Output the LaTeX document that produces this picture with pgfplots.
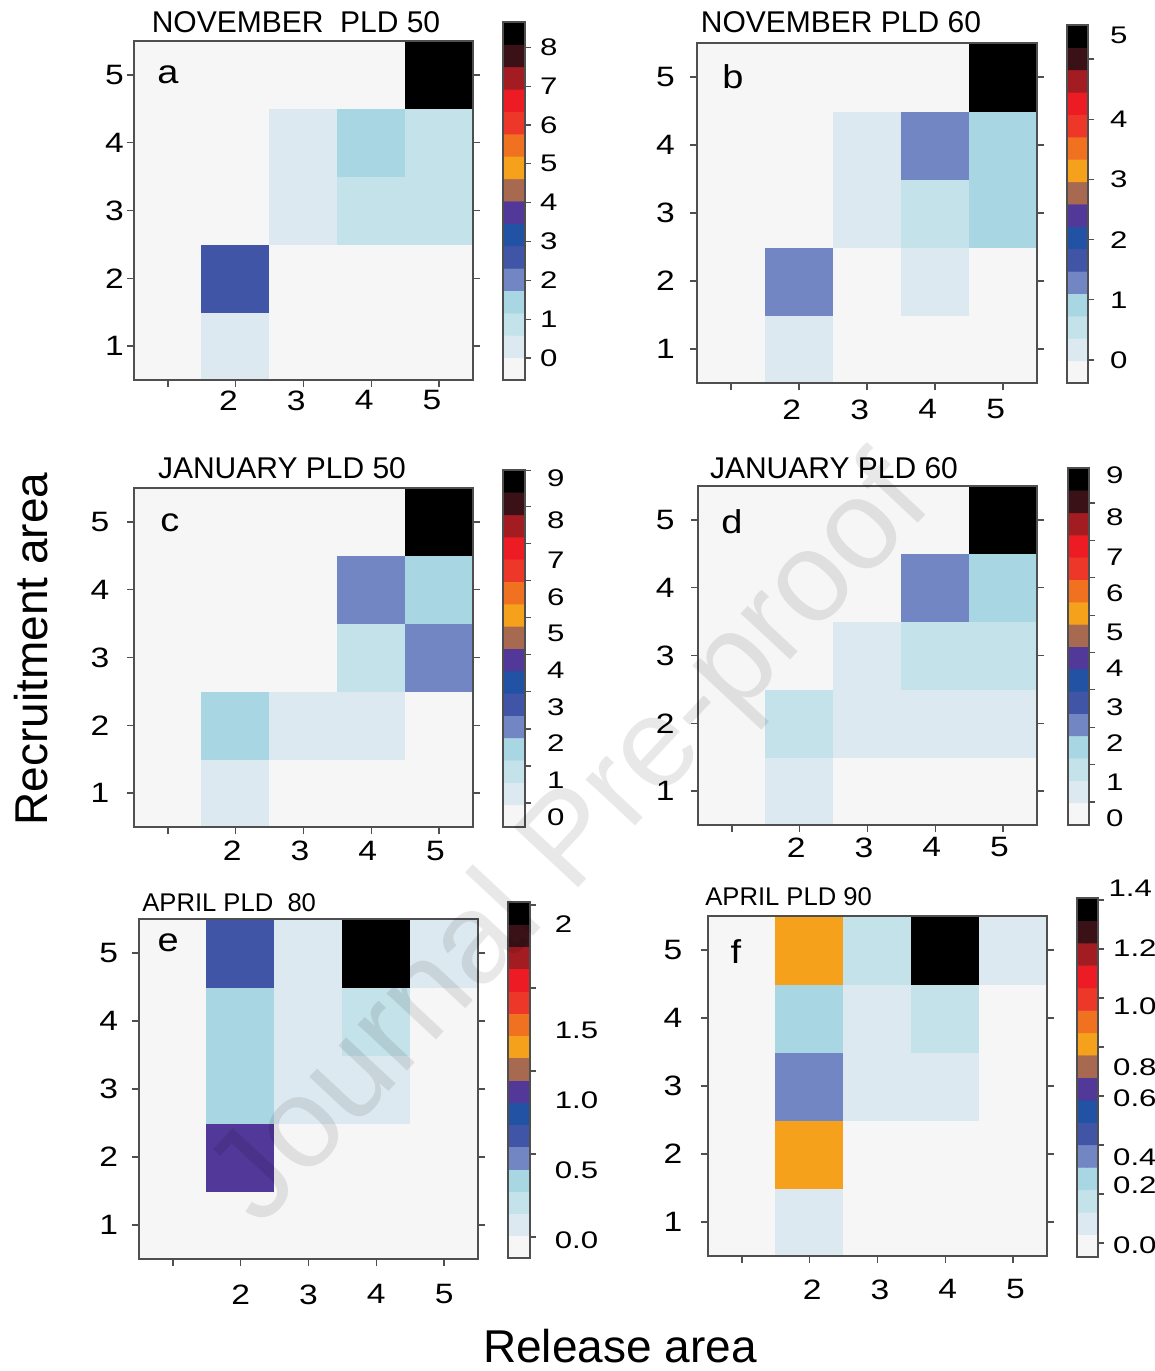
\documentclass[border=0pt]{standalone}
\usepackage{fontspec}
\setmainfont{Liberation Sans}
\usepackage{pgfplots}
\usepackage{pgfplotstable}
\pgfplotsset{compat=1.18}

\definecolor{axgray}{HTML}{4F4F4F}
\newcommand\tickfont{\fontsize{14}{16}\selectfont}
\newcommand\cbfont{\fontsize{12}{14}\selectfont}
\newcommand\titlefont{\fontsize{15}{17}\selectfont}
\newcommand\smalltitlefont{\fontsize{12.8}{15}\selectfont}
\newcommand\letterfont{\fontsize{16.5}{18}\selectfont}
\newcommand\labfont{\fontsize{23}{26}\selectfont}

\pgfplotsset{
  colormap={conn}{rgb255=(246,246,246) rgb255=(220,233,240) rgb255=(195,226,233)
    rgb255=(169,214,227) rgb255=(115,134,196) rgb255=(65,85,166) rgb255=(34,82,164)
    rgb255=(82,56,152) rgb255=(167,106,80) rgb255=(245,161,28) rgb255=(240,114,33)
    rgb255=(237,55,40) rgb255=(237,28,36) rgb255=(163,28,34) rgb255=(58,17,22)
    rgb255=(0,0,0)},
  hm/.style={
    scale only axis, anchor=north west,
    xmin=0.5, xmax=5.5, ymin=0.5, ymax=5.5,
    xtick={1,2,3,4,5}, xticklabels={,2,3,4,5},
    ytick={1,2,3,4,5}, yticklabels={1,2,3,4,5},
    xtick pos=left, ytick pos=both, yticklabel pos=left,
    tick align=outside, major tick length=3.5pt,
    axis line style={draw=axgray, line width=0.8pt},
    tick style={draw=axgray, line width=0.7pt},
    ticklabel style={font=\tickfont, xscale=1.2},
    /pgf/number format/assume math mode=true,
    colormap name=conn, colormap access=direct,
    axis on top,
  },
  cb/.style={
    scale only axis, anchor=north west,
    xmin=-0.5, xmax=1.5, ymin=0, ymax=16,
    xtick=\empty, ytick pos=right, yticklabel pos=right,
    yticklabels={},
    tick align=outside, major tick length=3pt,
    axis line style={draw=axgray, line width=0.6pt},
    tick style={draw=axgray, line width=0.6pt},
    ticklabel style={font=\cbfont, xscale=1.3},
    extra y tick style={major tick style={draw=none}},
    /pgf/number format/assume math mode=true,
    colormap name=conn, colormap access=direct,
    axis on top,
  },
}

% colour classes of the colour bars (0 = lowest, 15 = highest)
\pgfplotstableread[row sep=\\]{x y c\\
0 0.5 0\\ 1 0.5 0\\ 0 1.5 1\\ 1 1.5 1\\ 0 2.5 2\\ 1 2.5 2\\ 0 3.5 3\\ 1 3.5 3\\
0 4.5 4\\ 1 4.5 4\\ 0 5.5 5\\ 1 5.5 5\\ 0 6.5 6\\ 1 6.5 6\\ 0 7.5 7\\ 1 7.5 7\\
0 8.5 8\\ 1 8.5 8\\ 0 9.5 9\\ 1 9.5 9\\ 0 10.5 10\\ 1 10.5 10\\ 0 11.5 11\\ 1 11.5 11\\
0 12.5 12\\ 1 12.5 12\\ 0 13.5 13\\ 1 13.5 13\\ 0 14.5 14\\ 1 14.5 14\\ 0 15.5 15\\ 1 15.5 15\\
}\cbtab

% release area x, recruitment area y, value v
\pgfplotstableread[row sep=\\]{x y v\\
1 1 0\\ 2 1 0.30\\ 3 1 0\\ 4 1 0\\ 5 1 0\\
1 2 0\\ 2 2 2.60\\ 3 2 0\\ 4 2 0\\ 5 2 0\\
1 3 0\\ 2 3 0\\ 3 3 0.30\\ 4 3 0.87\\ 5 3 0.87\\
1 4 0\\ 2 4 0\\ 3 4 0.30\\ 4 4 1.45\\ 5 4 0.87\\
1 5 0\\ 2 5 0\\ 3 5 0\\ 4 5 0\\ 5 5 8.40\\
}\tabA
\pgfplotstableread[row sep=\\]{x y v\\
1 1 0\\ 2 1 0.18\\ 3 1 0\\ 4 1 0\\ 5 1 0\\
1 2 0\\ 2 2 1.29\\ 3 2 0\\ 4 2 0.18\\ 5 2 0\\
1 3 0\\ 2 3 0\\ 3 3 0.18\\ 4 3 0.55\\ 5 3 0.92\\
1 4 0\\ 2 4 0\\ 3 4 0.18\\ 4 4 1.29\\ 5 4 0.92\\
1 5 0\\ 2 5 0\\ 3 5 0\\ 4 5 0\\ 5 5 5.38\\
}\tabB
\pgfplotstableread[row sep=\\]{x y v\\
1 1 0\\ 2 1 0.26\\ 3 1 0\\ 4 1 0\\ 5 1 0\\
1 2 0\\ 2 2 1.46\\ 3 2 0.26\\ 4 2 0.26\\ 5 2 0\\
1 3 0\\ 2 3 0\\ 3 3 0\\ 4 3 0.86\\ 5 3 2.06\\
1 4 0\\ 2 4 0\\ 3 4 0\\ 4 4 2.06\\ 5 4 1.46\\
1 5 0\\ 2 5 0\\ 3 5 0\\ 4 5 0\\ 5 5 8.69\\
}\tabC
\pgfplotstableread[row sep=\\]{x y v\\
1 1 0\\ 2 1 0.28\\ 3 1 0\\ 4 1 0\\ 5 1 0\\
1 2 0\\ 2 2 0.88\\ 3 2 0.28\\ 4 2 0.28\\ 5 2 0.28\\
1 3 0\\ 2 3 0\\ 3 3 0.28\\ 4 3 0.88\\ 5 3 0.88\\
1 4 0\\ 2 4 0\\ 3 4 0\\ 4 4 2.07\\ 5 4 1.47\\
1 5 0\\ 2 5 0\\ 3 5 0\\ 4 5 0\\ 5 5 8.64\\
}\tabD
\pgfplotstableread[row sep=\\]{x y v\\
1 1 0\\ 2 1 0\\ 3 1 0\\ 4 1 0\\ 5 1 0\\
1 2 0\\ 2 2 0.88\\ 3 2 0\\ 4 2 0\\ 5 2 0\\
1 3 0\\ 2 3 0.34\\ 3 3 0.075\\ 4 3 0.075\\ 5 3 0\\
1 4 0\\ 2 4 0.34\\ 3 4 0.075\\ 4 4 0.21\\ 5 4 0\\
1 5 0\\ 2 5 0.61\\ 3 5 0.075\\ 4 5 1.95\\ 5 5 0.075\\
}\tabE
\pgfplotstableread[row sep=\\]{x y v\\
1 1 0\\ 2 1 0.08\\ 3 1 0\\ 4 1 0\\ 5 1 0\\
1 2 0\\ 2 2 0.81\\ 3 2 0\\ 4 2 0\\ 5 2 0\\
1 3 0\\ 2 3 0.355\\ 3 3 0.08\\ 4 3 0.08\\ 5 3 0\\
1 4 0\\ 2 4 0.26\\ 3 4 0.08\\ 4 4 0.17\\ 5 4 0\\
1 5 0\\ 2 5 0.81\\ 3 5 0.17\\ 4 5 1.36\\ 5 5 0.08\\
}\tabF

% #1 table, #2 offset, #3 classes per unit of the colour bar
\newcommand{\hmplot}[3]{\addplot[matrix plot*, mesh/cols=5,
  point meta={(\thisrow{v}>0)*int(#2+#3*\thisrow{v})}] table {#1};}
\newcommand{\cbplot}{\addplot[matrix plot*, mesh/cols=2, point meta=\thisrow{c}] table {\cbtab};}

\begin{document}
\begin{tikzpicture}
\path[use as bounding box] (0,0) rectangle (577.5pt,-685.5pt);

% ---- a
\begin{axis}[hm, at={(67pt,-20.5pt)}, width=169.5pt, height=169.5pt,
  yticklabel style={xshift=2.2pt}, xticklabel style={xshift=-3pt, yshift=1.7pt}]
\hmplot{\tabA}{0.983}{1.7356}
\node[font=\letterfont, xscale=1.15] at (axis cs:1,5) {a};
\end{axis}
\begin{axis}[cb, at={(251.5pt,-11pt)}, width=11pt, height=179pt,
  ytick={0.983,2.719,4.454,6.190,7.925,9.661,11.397,13.132,14.868},
  extra y ticks={0.983,2.719,4.454,6.190,7.925,9.661,11.397,13.132,14.868},
  extra y tick labels={0,1,2,3,4,5,6,7,8}]
\cbplot
\end{axis}

% ---- b
\begin{axis}[hm, at={(348.5pt,-21.5pt)}, width=170pt, height=170pt,
  yticklabel style={xshift=-2.8pt}, xticklabel style={xshift=-3pt, yshift=-1.3pt}]
\hmplot{\tabB}{1.028}{2.69}
\node[font=\letterfont, xscale=1.15] at (axis cs:1.03,5) {b};
\end{axis}
\begin{axis}[cb, at={(533.5pt,-12.5pt)}, width=10.5pt, height=179pt,
  ytick={1.028,3.718,6.408,9.098,11.788,14.478},
  extra y ticks={1.028,3.718,6.408,9.098,11.788,15.55},
  extra y tick labels={0,1,2,3,4,5},
  yticklabel style={xshift=2.7pt}]
\cbplot
\end{axis}

% ---- c
\begin{axis}[hm, at={(67pt,-244pt)}, width=169.5pt, height=169.5pt,
  yticklabel style={xshift=-3.8pt}, xticklabel style={xshift=-1.5pt}]
\hmplot{\tabC}{1.076}{1.66}
\node[font=\letterfont, xscale=1.15] at (axis cs:1.03,4.98) {c};
\end{axis}
\begin{axis}[cb, at={(251.5pt,-235pt)}, width=11pt, height=178.5pt,
  ytick={1.076,2.736,4.396,6.056,7.716,9.376,11.036,12.696,14.356,15.99},
  extra y ticks={0.448,2.106,3.765,5.378,7.036,8.695,10.308,11.966,13.759,15.641},
  extra y tick labels={0,1,2,3,4,5,6,7,8,9},
  yticklabel style={xshift=2.7pt}]
\cbplot
\end{axis}

% ---- d
\begin{axis}[hm, at={(349pt,-243pt)}, width=169.5pt, height=169.5pt,
  yticklabel style={xshift=-3.3pt}, xticklabel style={xshift=-1.5pt, yshift=0.7pt}]
\hmplot{\tabD}{1.031}{1.675}
\node[font=\letterfont, xscale=1.15] at (axis cs:1,4.98) {d};
\end{axis}
\begin{axis}[cb, at={(534pt,-234pt)}, width=10.5pt, height=178.5pt,
  ytick={1.031,2.706,4.381,6.056,7.731,9.406,11.081,12.756,14.431},
  extra y ticks={0.314,1.927,3.675,5.289,7.036,8.650,10.398,12.011,13.804,15.686},
  extra y tick labels={0,1,2,3,4,5,6,7,8,9},
  yticklabel style={xshift=0.7pt}]
\cbplot
\end{axis}

% ---- e
\begin{axis}[hm, at={(69.5pt,-459.5pt)}, width=169.5pt, height=170pt,
  yticklabel style={xshift=-2.3pt}, xticklabel style={yshift=-5.8pt}]
\hmplot{\tabE}{0.944}{7.46}
\node[font=\letterfont, xscale=1.15] at (axis cs:0.93,5.15) {e};
\end{axis}
\begin{axis}[cb, at={(254pt,-451pt)}, width=11pt, height=178pt,
  ytick={0.944,4.674,8.404,12.134,15.864},
  extra y ticks={0.809,3.955,7.101,10.247,15.011},
  extra y tick labels={0.0,0.5,1.0,1.5,2},
  yticklabel style={xshift=3.7pt}]
\cbplot
\end{axis}

% ---- f
\begin{axis}[hm, at={(354pt,-458pt)}, width=169.5pt, height=170pt,
  yticklabel style={xshift=-4.3pt}, xticklabel style={xshift=1pt, yshift=-4.8pt}]
\hmplot{\tabF}{0.624}{10.92}
\node[font=\letterfont, xscale=1.15] at (axis cs:0.91,4.97) {f};
\end{axis}
\begin{axis}[cb, at={(538.5pt,-449pt)}, width=10.5pt, height=179.5pt,
  ytick={0.624,2.808,4.992,7.176,9.36,11.544,13.728,15.912},
  extra y ticks={0.535,3.209,4.457,7.086,8.468,11.187,13.772},
  extra y tick labels={0.0,0.2,0.4,0.6,0.8,1.0,1.2}]
\cbplot
\end{axis}
\node[font=\cbfont, xscale=1.3, anchor=west, inner sep=0pt] at (554pt,-444pt) {1.4};

% titles
\node[font=\titlefont, inner sep=0pt] at (148pt,-11pt) {NOVEMBER\ \ PLD 50};
\node[font=\titlefont, inner sep=0pt] at (420.5pt,-11pt) {NOVEMBER PLD 60};
\node[font=\titlefont, inner sep=0pt] at (141pt,-234pt) {JANUARY PLD 50};
\node[font=\titlefont, inner sep=0pt] at (417pt,-234pt) {JANUARY PLD 60};
\node[font=\smalltitlefont, inner sep=0pt, anchor=west] at (71pt,-451.5pt) {APRIL PLD\ \ 80};
\node[font=\smalltitlefont, inner sep=0pt, anchor=west] at (352.5pt,-448.5pt) {APRIL PLD 90};

% axis titles
\node[font=\labfont, rotate=90, inner sep=0pt] at (15.5pt,-324.5pt) {Recruitment area};
\node[font=\labfont, inner sep=0pt] at (310pt,-673pt) {Release area};

% watermark
\node[font=\fontsize{64}{70}\selectfont, rotate=47, text=black, text opacity=0.09, inner sep=0pt]
  at (287pt,-422pt) {Journal Pre-proof};
\end{tikzpicture}
\end{document}
